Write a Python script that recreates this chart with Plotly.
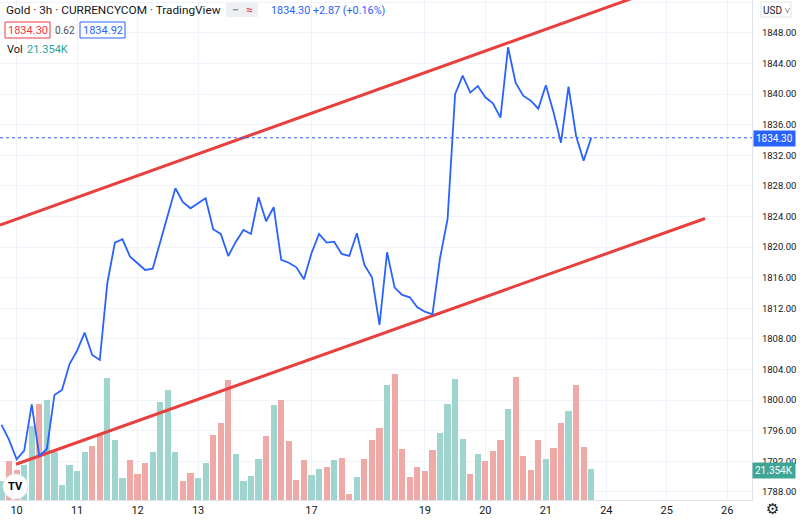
import plotly.graph_objects as go

# ---------------- data ----------------
bar_index = list(range(79))
close = [1796.76, 1794.8, 1792.27, 1793.4, 1799.46, 1792.7, 1793.62, 1800.68, 1801.33, 1804.73,
         1806.47, 1808.82, 1805.91, 1805.25, 1815.32, 1820.59, 1821.03, 1818.76, 1817.9, 1817.02,
         1817.19, 1820.72, 1824.43, 1827.7, 1825.87, 1825.08, 1825.74, 1826.39, 1822.34, 1821.73,
         1818.85, 1820.72, 1822.25, 1821.73, 1826.52, 1823.39, 1825.22, 1818.33, 1817.97, 1817.37,
         1815.8, 1819.2, 1821.73, 1820.59, 1820.72, 1819.11, 1818.85, 1821.82, 1817.67, 1816.07,
         1809.83, 1819.33, 1814.71, 1813.75, 1813.45, 1812.14, 1811.57, 1811.23, 1818.55, 1823.65,
         1839.99, 1842.42, 1840.2, 1841.07, 1839.59, 1838.81, 1836.93, 1846.13, 1841.5, 1839.8,
         1839.15, 1838.1, 1841.16, 1837.71, 1833.66, 1840.98, 1834.54, 1831.31, 1834.30]
volume_k = [12.9, 26.4, 20.2, 23.6, 50.4, 65.2, 67.9, 32.7, 10.2, 24.1,
            19.5, 32.7, 36.8, 44.5, 83.4, 40.7, 14.8, 27.3, 17.5, 25.0,
            32.7, 66.8, 74.8, 32.7, 12.9, 18.4, 14.8, 25.4, 44.1, 52.7,
            81.6, 31.1, 12.9, 16.4, 28.2, 43.6, 64.8, 68.2, 40.4, 13.4,
            27.0, 16.8, 20.9, 22.7, 27.5, 28.9, 3.9, 15.9, 27.7, 40.7,
            49.3, 78.2, 85.7, 35.0, 15.7, 22.3, 20.0, 33.9, 45.7, 65.4,
            82.5, 41.4, 17.5, 31.1, 26.6, 33.4, 40.7, 61.8, 84.1, 29.8,
            20.4, 40.7, 27.7, 35.4, 52.7, 60.7, 78.2, 36.1, 21.354]
volume_up = [1, 0, 0, 1, 1, 0, 1, 1, 1, 1,
             1, 1, 0, 0, 1, 1, 1, 0, 0, 0,
             1, 1, 1, 1, 0, 0, 1, 1, 0, 0,
             0, 1, 1, 1, 1, 0, 1, 0, 0, 0,
             0, 1, 1, 0, 1, 0, 0, 1, 0, 0,
             0, 1, 0, 0, 0, 0, 0, 0, 1, 1,
             1, 1, 0, 1, 0, 0, 0, 1, 0, 0,
             0, 0, 1, 0, 0, 1, 0, 0, 1]
upper_trend_x = [-0.2, 90.0]
upper_trend_y = [1822.9, 1854.86]
lower_trend_x = [1.92, 93.06]
lower_trend_y = [1791.62, 1823.75]
tick_positions = [2, 10, 18, 26, 41, 56, 64, 72, 80, 88, 96]
tick_labels = ["10", "11", "12", "13", "17", "19", "20", "21", "24", "25", "26"]
last_price = 1834.30

# ---------------- styling ----------------
W, H = 800, 523
PL, PR, PB = 0, 752, 500
TEAL_BAR = "#A0D4CE"
PINK_BAR = "#EFA9A7"
BLUE = "#2962FF"
RED = "#E8403E"
TXT = "#131722"
GRID = "#F0F3FA"
FONT = "Roboto"


def px(x):
    return x / PR


def py(y):
    return 1 - y / PB


fig = go.Figure()

fig.add_trace(go.Bar(
    x=bar_index, y=volume_k, width=0.82,
    marker=dict(color=[TEAL_BAR if u else PINK_BAR for u in volume_up],
                line=dict(width=0)),
    yaxis="y", xaxis="x", hoverinfo="skip", showlegend=False))

fig.add_trace(go.Scatter(x=upper_trend_x, y=upper_trend_y, mode="lines",
                         line=dict(color=RED, width=3), yaxis="y2", showlegend=False))
fig.add_trace(go.Scatter(x=lower_trend_x, y=lower_trend_y, mode="lines",
                         line=dict(color=RED, width=3), yaxis="y2", showlegend=False))
fig.add_trace(go.Scatter(x=bar_index, y=close, mode="lines",
                         line=dict(color=BLUE, width=1.8), yaxis="y2", showlegend=False))

shapes = [
    dict(type="line", xref="paper", yref="y2", x0=0, x1=1, y0=last_price, y1=last_price,
         line=dict(color=BLUE, width=1, dash="dot")),
    dict(type="rect", xref="paper", yref="paper", x0=px(226), x1=px(258), y0=py(17), y1=py(3),
         fillcolor="#EEF0F4", line=dict(width=0), layer="above"),
    dict(type="rect", xref="paper", yref="paper", x0=px(5), x1=px(50), y0=py(38), y1=py(22),
         fillcolor="white", line=dict(color="#F23645", width=1), layer="above"),
    dict(type="rect", xref="paper", yref="paper", x0=px(80), x1=px(125), y0=py(38), y1=py(22),
         fillcolor="white", line=dict(color=BLUE, width=1), layer="above"),
    dict(type="rect", xref="paper", yref="paper", x0=px(761), x1=px(791), y0=py(17), y1=py(2),
         fillcolor="white", line=dict(color="#E0E3EB", width=1), layer="above"),
    dict(type="circle", xref="paper", yref="paper", x0=px(3), x1=px(28), y0=py(499), y1=py(474),
         fillcolor="white", line=dict(color="#E6E8EC", width=1), layer="above"),
]
fig.update_layout(shapes=shapes)

ann = []


def text(x, y, s, size=11, color=TXT, xanchor="left", bg=None, bold=False, fam=FONT, pad=1):
    ann.append(dict(x=px(x), y=py(y), xref="paper", yref="paper", text=("<b>%s</b>" % s) if bold else s,
                    showarrow=False, xanchor=xanchor, yanchor="middle",
                    font=dict(size=size, color=color, family=fam),
                    bgcolor=bg, borderpad=pad))


text(4, 10, "Gold · 3h · CURRENCYCOM · TradingView", size=11.8)
text(235, 10, "−", size=12, color="#8A8E99", xanchor="center", bold=True)
text(249, 10, "≈", size=12, color="#F23645", xanchor="center")
text(269, 10, "1834.30 +2.87 (+0.16%)", size=10.8, color=BLUE)
text(27.5, 30, "1834.30", size=11, color="#F23645", xanchor="center")
text(65, 30, "0.62", size=10, color="#4A4E59", xanchor="center")
text(102.5, 30, "1834.92", size=11, color=BLUE, xanchor="center")
text(5, 50, "Vol", size=11)
text(25, 50, "21.354K", size=11, color="#26A69A")
text(776, 10, "USD ˅", size=10, xanchor="center")
text(774, 138, "1834.30", size=10, color="white", xanchor="center", bg=BLUE, pad=2)
text(774, 470, "21.354K", size=10, color="white", xanchor="center", bg="#3FA596", pad=2)
text(772, 509, "⚙", size=15, color=TXT, xanchor="center", fam="DejaVu Sans")
text(15.5, 486.5, "TV", size=11, color="black", xanchor="center", bold=True)
fig.update_layout(annotations=ann)

fig.update_layout(
    width=W, height=H,
    margin=dict(l=PL, r=W - PR, t=0, b=H - PB),
    paper_bgcolor="white", plot_bgcolor="white",
    font=dict(family=FONT, color=TXT, size=11),
    showlegend=False,
    bargap=0,
    xaxis=dict(range=[-0.2, 99.27], tickvals=tick_positions, ticktext=tick_labels,
               showgrid=True, gridcolor=GRID, gridwidth=1, zeroline=False,
               showline=True, linecolor="#E0E3EB", linewidth=1, mirror=False,
               ticks="", tickfont=dict(size=11, color=TXT), fixedrange=True),
    yaxis=dict(range=[0, 341.1], visible=False, showgrid=False, zeroline=False, fixedrange=True),
    yaxis2=dict(range=[1786.95, 1852.31], overlaying="y", side="right", anchor="x",
                tick0=1788, dtick=4, tickformat=".2f", showgrid=True, gridcolor=GRID,
                zeroline=False, showline=True, linecolor="#E0E3EB", linewidth=1,
                ticks="", ticklabelstandoff=7, tickfont=dict(size=9.5, color=TXT), fixedrange=True),
)

fig.write_html("out.html", config={"displayModeBar": False},
               post_script="document.body.style.margin='0px';")
